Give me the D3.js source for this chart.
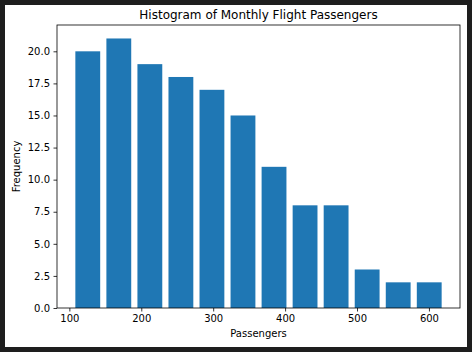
<!DOCTYPE html>
<html><head><meta charset="utf-8">
<script src="https://cdn.jsdelivr.net/npm/d3@7"></script>
<style>
html,body{margin:0;padding:0;background:#1e1e1e;}
svg{display:block;}
text{font-family:"DejaVu Sans",sans-serif;fill:#000;}
</style></head>
<body>
<script>
const binEdges = [104, 147.17, 190.33, 233.5, 276.67, 319.83, 363, 406.17, 449.33, 492.5, 535.67, 578.83, 622];
const counts = [20, 21, 19, 18, 17, 15, 11, 8, 8, 3, 2, 2];
const xTicks = [100, 200, 300, 400, 500, 600];
const yTicks = [0, 2.5, 5, 7.5, 10, 12.5, 15, 17.5, 20];
const title = "Histogram of Monthly Flight Passengers";
const xLabel = "Passengers";
const yLabel = "Frequency";

const W = 472, H = 352;
const svg = d3.select("body").append("svg").attr("width", W).attr("height", H);
svg.append("rect").attr("x", 0).attr("y", 0).attr("width", W).attr("height", H).attr("fill", "#1e1e1e");
svg.append("rect").attr("x", 5).attr("y", 5).attr("width", 462).attr("height", 342).attr("fill", "#fff");

const L = 57, R = 460, T = 25, B = 308;
const x = d3.scaleLinear().domain([82.8, 643.2]).range([L, R]);
const y = d3.scaleLinear().domain([0, 22.05]).range([B, T]);

const bins = counts.map((c, i) => ({x0: binEdges[i], x1: binEdges[i+1], c}));
const rw = 0.8;
svg.append("g").selectAll("rect").data(bins).join("rect")
  .attr("x", d => x(d.x0 + (d.x1 - d.x0) * (1 - rw) / 2))
  .attr("width", d => x(d.x0 + (d.x1 - d.x0) * (1 + rw) / 2) - x(d.x0 + (d.x1 - d.x0) * (1 - rw) / 2))
  .attr("y", d => y(d.c))
  .attr("height", d => y(0) - y(d.c))
  .attr("fill", "#1f77b4");

const xAxis = svg.append("g").attr("transform", `translate(0,${B})`)
  .call(d3.axisBottom(x).tickValues(xTicks).tickSize(3.5).tickPadding(3.5).tickFormat(d3.format("d")));
const yAxis = svg.append("g").attr("transform", `translate(${L},0)`)
  .call(d3.axisLeft(y).tickValues(yTicks).tickSize(3.5).tickPadding(3.5).tickFormat(d3.format(".1f")));
[xAxis, yAxis].forEach(g => {
  g.select(".domain").remove();
  g.selectAll("text").attr("font-size", 10).attr("font-family", "DejaVu Sans").attr("fill", "#000");
  g.selectAll("line").attr("stroke", "#000").attr("stroke-width", 0.8);
});

svg.append("rect").attr("x", L).attr("y", T).attr("width", R - L).attr("height", B - T)
  .attr("fill", "none").attr("stroke", "#000").attr("stroke-width", 0.8);

svg.append("text").attr("x", (L + R) / 2).attr("y", T - 6).attr("text-anchor", "middle")
  .attr("font-size", 12).text(title);
svg.append("text").attr("x", (L + R) / 2).attr("y", 337).attr("text-anchor", "middle")
  .attr("font-size", 10).text(xLabel);
svg.append("text").attr("transform", `translate(20,${(T + B) / 2}) rotate(-90)`).attr("text-anchor", "middle")
  .attr("font-size", 10).text(yLabel);
</script>
</body></html>
